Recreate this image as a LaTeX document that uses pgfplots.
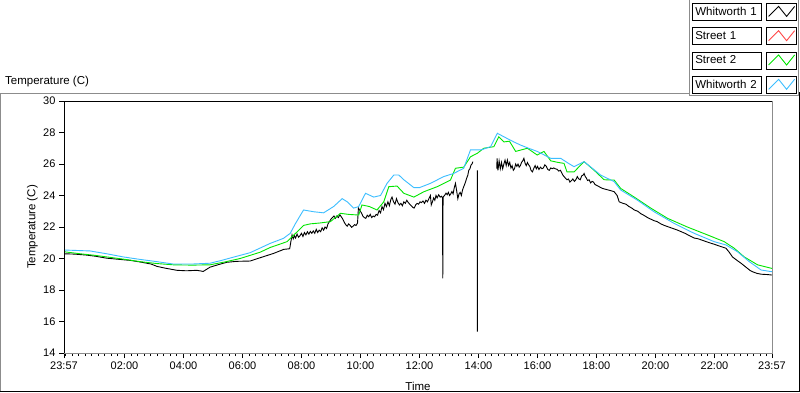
\documentclass[border=0pt]{standalone}
\usepackage{pgfplots}
\pgfplotsset{compat=1.18}
\usepackage{fontspec}
\setmainfont{Liberation Sans}
\definecolor{sgreen}{RGB}{0,230,0}
\definecolor{wblue}{RGB}{60,190,255}
\definecolor{sred}{RGB}{255,70,70}
\definecolor{fgray}{RGB}{140,140,140}
\begin{document}
\begin{tikzpicture}[x=1pt,y=1pt]
\useasboundingbox (0,0) rectangle (800,392);
\fill[white] (0,0) rectangle (800,392);
\draw[fgray, line width=1pt] (0.5,0) -- (0.5,299) -- (690,299);
\draw[black, line width=1pt] (0,0.8) -- (799.2,0.8) -- (799.2,300);
\draw[fgray, line width=1pt] (689.5,392) -- (689.5,297) -- (798.5,297) -- (798.5,392);
\node[anchor=west, font=\fontsize{11.5}{13}\selectfont, inner sep=0pt] at (5,310) {Temperature (C)};
\begin{axis}[
 at={(64pt,39pt)}, anchor=south west, scale only axis, width=708pt, height=252pt,
 xmin=-0.05, xmax=23.95, ymin=14, ymax=30,
 xtick={-0.05,2,4,6,8,10,12,14,16,18,20,22,23.95},
 xticklabels={23:57,02:00,04:00,06:00,08:00,10:00,12:00,14:00,16:00,18:00,20:00,22:00,23:57},
 minor xtick={0,0.22222,...,23.9},
 ytick={14,16,...,30},
 tick align=outside, xtick pos=bottom, ytick pos=left,
 major tick length=5pt, minor tick length=3pt,
 every tick/.style={black, line width=1pt},
 tick label style={font=\fontsize{11}{13}\selectfont},
 /pgf/number format/assume math mode=true,
 axis line style={fgray, line width=1pt},
 xlabel={Time}, ylabel={Temperature (C)},
 every axis x label/.style={at={(axis description cs:0.5,-0.1468)}, anchor=base, font=\fontsize{11.5}{13}\selectfont},
 every axis y label/.style={at={(axis description cs:-0.0445,0.5)}, anchor=center, rotate=90, font=\fontsize{11.5}{13}\selectfont},
 unbounded coords=jump,
 legend plot pos=right,
 legend cell align=left,
 legend style={at={(1.03531,1.38889)}, anchor=north east, draw=none, fill=none, inner sep=0pt, outer sep=0pt, row sep=6.5pt, column sep=4pt,
   nodes={draw=black, line width=0.8pt, minimum height=17pt, text width=64pt, inner sep=2.5pt, font=\fontsize{11.5}{13}\selectfont}},
 legend image code/.code={\draw[black, line width=0.8pt, fill=white] (0pt,-8.5pt) rectangle (30pt,8.5pt); \draw[#1] (2pt,-4.5pt) -- (12pt,5.5pt) -- (20pt,-4.5pt) -- (28pt,5.5pt);},
]
\addplot[black, line width=0.9pt, no marks] table {
x y
-0.05 20.30
0.3 20.28
0.7 20.22
1.0 20.15
1.4 20.02
1.8 19.95
2.2 19.88
2.53 19.78
2.9 19.65
3.1 19.50
3.4 19.38
3.78 19.25
4.1 19.22
4.45 19.25
4.67 19.18
4.9 19.45
5.2 19.62
5.47 19.76
5.8 19.82
6.26 19.84
6.6 20.05
7.05 20.32
7.4 20.58
7.6 20.62
7.68 21.5
7.72 21.25
7.76 21.45
7.8 21.3
7.85 21.55
7.9 21.35
7.95 21.45
8.0 21.6
8.05 21.4
8.1 21.65
8.15 21.5
8.2 21.7
8.25 21.55
8.3 21.72
8.35 21.6
8.4 21.75
8.45 21.6
8.5 21.85
8.55 21.65
8.6 21.8
8.65 21.7
8.7 21.95
8.75 21.8
8.8 22.0
8.85 21.9
8.9 22.2
8.95 22.35
9.0 22.5
9.05 22.6
9.1 22.7
9.15 22.55
9.2 22.7
9.25 22.6
9.3 22.78
9.35 22.65
9.4 22.5
9.45 22.3
9.5 22.15
9.55 22.05
9.6 22.2
9.65 22.1
9.7 21.98
9.75 22.05
9.8 22.15
9.85 22.1
9.9 22.25
9.93 23.2
9.98 23.05
10.03 22.9
10.08 22.7
10.13 22.6
10.18 22.55
10.23 22.75
10.28 22.65
10.33 22.8
10.38 22.6
10.43 22.7
10.48 22.65
10.53 22.8
10.58 22.75
10.63 23.05
10.68 22.9
10.73 23.3
10.78 23.1
10.83 23.5
10.88 23.3
10.93 23.6
10.98 23.35
11.03 23.75
11.07 23.9
11.12 23.6
11.17 23.45
11.22 23.8
11.27 23.55
11.32 23.4
11.37 23.5
11.42 23.35
11.47 23.6
11.52 23.5
11.57 23.7
11.62 23.55
11.67 23.45
11.72 23.35
11.77 23.25
11.82 23.2
11.87 23.4
11.92 23.5
11.97 23.45
12.02 23.6
12.07 23.55
12.12 23.65
12.17 23.5
12.22 23.7
12.27 23.6
12.32 23.8
12.37 24.0
12.4 23.4
12.44 23.6
12.48 23.85
12.52 23.7
12.56 24.0
12.6 23.85
12.65 24.05
12.7 23.9
12.75 23.95
12.78 23.85
12.79 18.74
12.80 23.9
12.85 24.0
12.9 24.15
12.94 24.05
12.98 24.2
13.02 24.0
13.06 24.1
13.1 24.25
13.14 24.1
13.18 24.5
13.22 24.77
13.26 24.3
13.3 23.8
13.34 24.1
13.38 24.2
13.42 24.0
13.46 24.35
13.5 24.56
13.55 24.8
13.6 25.1
13.64 25.3
13.67 25.6
13.71 25.7
13.75 25.95
13.78 26.0
13.81 26.15
13.9 nan
13.96 25.6
13.961 15.35
14.0 nan
14.62 25.7
14.63 26.36
14.66 25.6
14.7 26.2
14.74 25.7
14.78 26.1
14.82 25.7
14.86 26.0
14.9 26.25
14.94 25.9
14.98 26.25
15.02 25.9
15.06 26.1
15.1 25.75
15.14 25.9
15.18 25.6
15.22 25.7
15.26 26.0
15.3 25.85
15.34 26.0
15.38 25.8
15.42 25.9
15.46 26.1
15.5 26.2
15.54 26.36
15.58 26.05
15.62 25.9
15.66 26.1
15.7 25.95
15.74 25.85
15.78 25.6
15.83 25.5
15.88 25.75
15.92 25.9
15.96 25.7
16.0 25.85
16.05 25.65
16.1 25.8
16.15 25.7
16.2 25.75
16.25 25.95
16.3 25.85
16.35 25.65
16.4 25.6
16.45 25.75
16.5 25.7
16.55 25.75
16.6 25.7
16.67 25.66
16.72 25.55
16.78 25.6
16.82 25.45
16.86 25.3
16.9 25.2
16.95 25.1
17.0 25.0
17.05 25.05
17.1 24.85
17.15 24.95
17.2 25.05
17.25 24.9
17.3 25.0
17.35 25.2
17.4 25.05
17.45 25.0
17.5 25.25
17.55 25.3
17.58 25.4
17.62 25.2
17.66 25.1
17.7 24.95
17.75 25.0
17.8 24.8
17.85 24.9
17.9 24.85
17.95 24.7
18.05 24.6
18.2 24.45
18.3 24.4
18.4 24.35
18.5 24.3
18.6 24.24
18.7 24.0
18.77 23.6
18.9 23.5
19.0 23.45
19.1 23.3
19.2 23.2
19.28 23.08
19.4 23.0
19.5 22.85
19.6 22.75
19.73 22.6
19.95 22.4
20.05 22.35
20.18 22.2
20.3 22.1
20.45 22.0
20.6 21.9
20.75 21.8
21.0 21.6
21.15 21.45
21.31 21.3
21.45 21.25
21.6 21.15
21.75 21.05
21.88 20.97
22.0 20.9
22.15 20.8
22.39 20.65
22.5 20.4
22.61 20.1
22.75 19.9
22.9 19.7
23.0 19.55
23.1 19.4
23.2 19.25
23.29 19.16
23.45 19.05
23.6 19.0
23.8 18.98
23.95 18.95
};
\addlegendentry{Whitworth 1}
\addlegendimage{sred, line width=0.9pt}
\addlegendentry{Street 1}
\addplot[sgreen, line width=0.9pt, no marks] table {
x y
-0.05 20.43
0.5 20.3
1.0 20.2
1.4 20.1
2.0 19.95
2.53 19.8
3.1 19.68
3.65 19.6
4.3 19.58
4.9 19.6
5.4 19.78
5.92 20.0
6.26 20.2
6.6 20.4
6.94 20.7
7.25 20.9
7.51 21.07
7.8 21.6
8.07 22.1
8.3 22.2
8.6 22.25
8.98 22.34
9.15 22.6
9.32 22.87
9.6 22.8
9.94 22.76
10.05 23.4
10.3 23.3
10.56 23.08
10.79 23.6
10.96 24.56
11.24 24.6
11.47 24.14
11.81 23.9
12.15 24.24
12.6 24.56
13.05 24.98
13.22 25.73
13.5 25.8
13.73 26.46
13.96 26.68
14.18 27.0
14.52 27.1
14.69 27.73
14.86 27.4
15.05 27.45
15.26 26.8
15.66 27.0
15.99 26.57
16.22 26.8
16.45 26.2
16.7 26.1
16.9 26.04
17.0 25.5
17.24 25.5
17.58 26.15
17.92 25.6
18.26 25.0
18.6 24.98
18.82 24.45
19.28 23.9
19.84 23.2
20.41 22.55
21.08 22.0
21.76 21.5
22.33 21.07
22.67 20.65
23.01 20.1
23.46 19.6
23.95 19.37
};
\addlegendentry{Street 2}
\addplot[wblue, line width=0.9pt, no marks] table {
x y
-0.05 20.54
0.83 20.48
1.4 20.3
1.96 20.1
2.5 19.95
3.1 19.8
3.65 19.65
4.3 19.65
4.9 19.7
5.25 19.86
5.92 20.2
6.26 20.37
6.94 20.96
7.39 21.28
7.62 21.6
7.79 22.2
8.07 23.08
8.41 22.97
8.75 22.9
9.09 23.3
9.38 23.8
9.55 23.6
9.77 23.2
9.94 23.3
10.17 24.14
10.45 23.9
10.68 24.0
10.9 24.77
11.13 25.3
11.3 25.3
11.47 25.0
11.81 24.5
12.0 24.5
12.37 24.77
12.82 25.2
13.16 25.4
13.5 25.73
13.73 26.9
13.84 26.9
14.1 26.9
14.41 27.1
14.64 27.95
14.86 27.73
15.2 27.4
15.43 27.2
15.7 27.0
15.99 26.8
16.2 26.6
16.45 26.36
16.79 26.36
17.0 26.1
17.24 25.83
17.58 26.15
18.14 25.3
18.6 24.88
18.82 24.35
19.39 23.7
19.95 22.97
20.63 22.23
21.31 21.6
21.99 21.07
22.39 20.86
22.78 20.43
23.18 19.8
23.58 19.27
23.95 19.16
};
\addlegendentry{Whitworth 2}
\draw[black, line width=1pt] (rel axis cs:0,0) -- (rel axis cs:0,1) -- (rel axis cs:1,1);
\end{axis}
\end{tikzpicture}
\end{document}
